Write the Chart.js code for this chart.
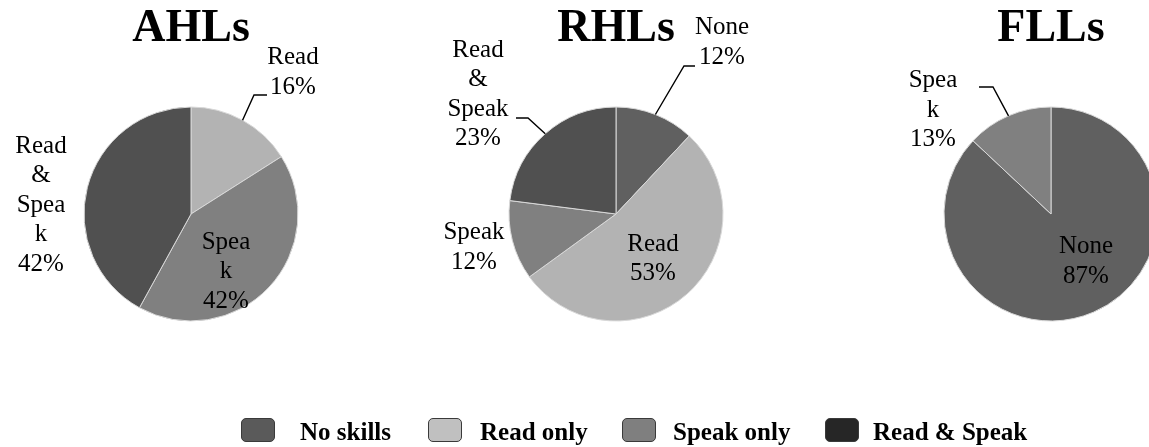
<!DOCTYPE html>
<html>
<head>
<meta charset="utf-8">
<script src="https://cdn.jsdelivr.net/npm/chart.js@4.4.1/dist/chart.umd.min.js"></script>
<style>
  html, body { margin: 0; padding: 0; background: #ffffff; }
  body { width: 1149px; height: 447px; overflow: hidden; position: relative; font-family: "Liberation Serif", "Times New Roman", serif; }
  canvas { position: absolute; top: 0; }
  .legend-box { position: absolute; top: 418px; width: 32px; height: 22px; border: 1.5px solid #3a3a3a; border-radius: 5px; box-sizing: content-box; }
  .legend-text { position: absolute; top: 418px; height: 25px; line-height: 25px; white-space: nowrap; font: bold 25px "Liberation Serif", "Times New Roman", serif; color: #000; }
</style>
</head>
<body>
<canvas id="c1" width="382" height="447" style="left:0px"></canvas>
<canvas id="c2" width="382" height="447" style="left:425px"></canvas>
<canvas id="c3" width="382" height="447" style="left:860px"></canvas>
<div id="legend"></div>
<script>
// ---- data ----
const categories = ['No skills', 'Read only', 'Speak only', 'Read & Speak'];
const sliceNames = ['None', 'Read', 'Speak', 'Read & Speak'];
const chartTitles = ['AHLs', 'RHLs', 'FLLs'];
const ahlsValues = [0, 16, 42, 42];
const rhlsValues = [12, 53, 12, 23];
const fllsValues = [87, 0, 13, 0];

// ---- styles ----
const sliceColors = ['#606060', '#b3b3b3', '#808080', '#505050'];
const legendColors = ['#5a5a5a', '#c0c0c0', '#7f7f7f', '#262626'];

// label layout per chart: wrapped name lines, block offset from pie centre, optional leader (elbow, end)
const layoutAHLs = {
  1: { lines: ['Read'], dx: 102, dy: -141.5, leader: [[63, -119], [76, -119]] },
  2: { lines: ['Spea', 'k'], dx: 35, dy: 57.5 },
  3: { lines: ['Read', '&', 'Spea', 'k'], dx: -150, dy: -9 }
};
const layoutRHLs = {
  0: { lines: ['None'], dx: 106, dy: -171.5, leader: [[68, -148], [79, -148]] },
  1: { lines: ['Read'], dx: 37, dy: 45 },
  2: { lines: ['Speak'], dx: -142, dy: 33.5 },
  3: { lines: ['Read', '&', 'Speak'], dx: -138, dy: -119.5, leader: [[-88, -96], [-100, -96]] }
};
const layoutFLLs = {
  0: { lines: ['None'], dx: 35, dy: 47.5 },
  2: { lines: ['Spea', 'k'], dx: -118, dy: -104, leader: [[-58, -127], [-72, -127]] }
};

const labelPlugin = {
  id: 'sliceLabels',
  afterDatasetsDraw(chart, args, opts) {
    const ctx = chart.ctx;
    const meta = chart.getDatasetMeta(0);
    const data = chart.data.datasets[0].data;
    const total = data.reduce((a, b) => a + b, 0);
    const layout = opts.layout || {};
    ctx.save();
    meta.data.forEach((arc, i) => {
      const L = layout[i];
      if (!L || !data[i]) return;
      const cx = arc.x, cy = arc.y;
      const pct = Math.round(data[i] / total * 100) + '%';
      const lines = L.lines.concat([pct]);
      const lh = 29.5;
      ctx.font = '25px "Liberation Serif", "Times New Roman", serif';
      ctx.fillStyle = '#000';
      ctx.textAlign = 'center';
      ctx.textBaseline = 'middle';
      const y0 = cy + L.dy - (lines.length - 1) * lh / 2;
      lines.forEach((t, k) => ctx.fillText(t, cx + L.dx, y0 + k * lh));
      if (L.leader) {
        const mid = (arc.startAngle + arc.endAngle) / 2;
        const r = arc.outerRadius;
        ctx.beginPath();
        ctx.moveTo(cx + Math.cos(mid) * r, cy + Math.sin(mid) * r);
        L.leader.forEach(p => ctx.lineTo(cx + p[0], cy + p[1]));
        ctx.strokeStyle = '#000';
        ctx.lineWidth = 1.4;
        ctx.stroke();
      }
    });
    ctx.restore();
  }
};

function makePie(id, title, values, layout) {
  return new Chart(document.getElementById(id), {
    type: 'pie',
    data: {
      labels: categories,
      datasets: [{
        data: values,
        backgroundColor: sliceColors,
        borderColor: '#d8d8d8',
        borderWidth: ctx => (ctx.raw ? 1 : 0)
      }]
    },
    options: {
      responsive: false,
      animation: false,
      events: [],
      layout: { padding: { top: 0, bottom: 125.5, left: 83.5, right: 83.5 } },
      plugins: {
        legend: { display: false },
        tooltip: { enabled: false },
        title: {
          display: true,
          text: title,
          color: '#000',
          font: { family: '"Liberation Serif", "Times New Roman", serif', size: 46, weight: 'bold', lineHeight: 1.2 },
          padding: { top: 2, bottom: 49.3 }
        },
        sliceLabels: { layout: layout }
      }
    },
    plugins: [labelPlugin]
  });
}

makePie('c1', chartTitles[0], ahlsValues, layoutAHLs);
makePie('c2', chartTitles[1], rhlsValues, layoutRHLs);
makePie('c3', chartTitles[2], fllsValues, layoutFLLs);

// shared legend
const legendBoxLefts = [241, 428, 622, 825];
const legendTextLefts = [300, 480, 673, 873];
const legend = document.getElementById('legend');
categories.forEach((c, i) => {
  const box = document.createElement('div');
  box.className = 'legend-box';
  box.style.left = legendBoxLefts[i] + 'px';
  box.style.background = legendColors[i];
  const txt = document.createElement('div');
  txt.className = 'legend-text';
  txt.style.left = legendTextLefts[i] + 'px';
  txt.textContent = c;
  legend.appendChild(box);
  legend.appendChild(txt);
});
</script>
</body>
</html>
